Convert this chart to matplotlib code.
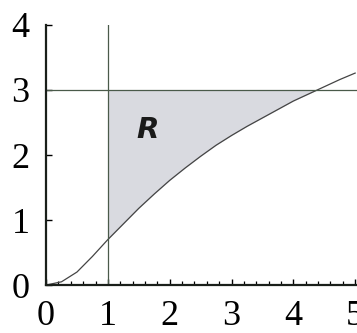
import matplotlib
matplotlib.use("Agg")
import matplotlib.pyplot as plt
from matplotlib.ticker import MultipleLocator
import numpy as np

# curve
x = np.array([0, 0.25, 0.5, 0.75, 1, 1.25, 1.5, 1.75, 2, 2.25, 2.5,
              2.75, 3, 3.25, 3.5, 3.75, 4, 4.25, 4.5, 4.75, 5])
y = np.array([0, 0.05, 0.2, 0.44, 0.70, 0.94, 1.18, 1.40, 1.61, 1.80, 1.98,
              2.15, 2.30, 2.44, 2.57, 2.70, 2.83, 2.94, 3.05, 3.16, 3.26])

x_left = 1    # vertical boundary
y_top = 3     # horizontal boundary
region_label = "R"
xticks = [0, 1, 2, 3, 4, 5]
yticks = [0, 1, 2, 3, 4]

fig = plt.figure(figsize=(3.57, 3.33), dpi=100)
ax = fig.add_axes([0.129, 0.144, 0.871, 0.781])

# shaded region between the curve and y = 3, right of x = 1
ax.fill_between(x, y, y_top, where=(x >= x_left) & (y <= y_top),
                interpolate=True, color='#d9dae0', lw=0)

ax.plot(x, y, color='#444444', lw=0.9)
ax.axvline(x_left, color='#4a5a4a', lw=0.9)
ax.axhline(y_top, color='#4a5a4a', lw=0.9)

ax.text(1.65, 2.38, region_label, fontsize=21, fontweight='bold',
        fontstyle='italic', family='DejaVu Sans', ha='center', va='center',
        color='#1a1a1a')

ax.set_xlim(0, 5.03)
ax.set_ylim(0, 4)
ax.set_xticks(xticks)
ax.set_yticks(yticks)
ax.xaxis.set_minor_locator(MultipleLocator(0.2))

for s in ['top', 'right']:
    ax.spines[s].set_visible(False)
for s in ['left', 'bottom']:
    ax.spines[s].set_linewidth(1.6)
    ax.spines[s].set_color('#1a1f1a')

ax.tick_params(axis='both', which='major', direction='in', length=4, width=1,
               labelsize=26)
ax.tick_params(axis='x', which='major', pad=11)
ax.tick_params(axis='y', which='major', pad=12)
ax.tick_params(axis='x', which='minor', direction='in', length=3, width=0.9)
for lab in ax.get_xticklabels() + ax.get_yticklabels():
    lab.set_family('Liberation Serif')

fig.savefig('out.png', dpi=100)
